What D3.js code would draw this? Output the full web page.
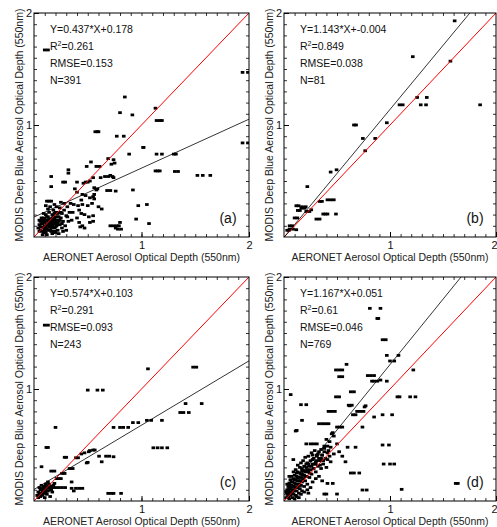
<!DOCTYPE html>
<html>
<head>
<meta charset="utf-8">
<script src="https://cdn.jsdelivr.net/npm/d3@7"></script>
<style>
  body { margin: 0; background: #fff; }
  text { font-family: Arial, "Liberation Sans", sans-serif; }
</style>
</head>
<body>
<svg id="chart" width="497" height="527"></svg>
<script>
// DATA

const panelNames = ["(a)", "(b)", "(c)", "(d)"];
const slopes = [0.437, 1.143, 0.574, 1.167];
const intercepts = [0.178, -0.004, 0.103, 0.051];
const fitLabels = ["Y=0.437*X+0.178", "Y=1.143*X+-0.004", "Y=0.574*X+0.103", "Y=1.167*X+0.051"];
const r2Labels = ["0.261", "0.849", "0.291", "0.61"];
const rmseLabels = ["0.153", "0.038", "0.093", "0.046"];
const nLabels = ["391", "81", "243", "769"];
const tickLabels = [1, 2];
const xTitle = "AERONET Aerosol Optical Depth (550nm)";
const yTitle = "MODIS Deep Blue Aerosol Optical Depth (550nm)";

// [AERONET, MODIS] pairs
const pointsA = [
  [0.10,1.67],[0.13,1.67],[1.94,1.47],[1.99,1.47],[1.94,0.84],[1.99,0.84],
  [0.845,1.25],[0.80,1.11],[0.915,1.09],[1.13,1.15],[1.14,1.04],[1.17,1.04],[1.19,1.04],
  [0.57,0.94],[0.59,0.94],[0.60,0.94],[0.77,0.90],[0.835,0.90],[1.015,0.80],[1.02,0.80],
  [0.885,0.74],[1.14,0.74],[1.19,0.74],[1.30,0.74],[1.32,0.74],
  [0.69,0.70],[0.74,0.69],[0.53,0.67],[0.75,0.66],[0.72,0.65],
  [0.49,0.63],[0.58,0.63],[0.61,0.63],[0.32,0.60],[0.32,0.57],
  [1.13,0.59],[1.15,0.59],[1.17,0.59],[1.31,0.585],[1.34,0.585],
  [1.52,0.55],[1.57,0.55],[1.64,0.55],
  [0.16,0.54],[0.55,0.53],[0.62,0.53],[0.66,0.54],[0.69,0.54],[0.71,0.55],[0.73,0.54],[0.74,0.53],
  [0.27,0.49],[0.29,0.49],[0.40,0.49],[0.46,0.48],[0.48,0.49],[0.50,0.49],[0.52,0.50],
  [0.16,0.45],[0.56,0.44],[0.58,0.42],[0.59,0.43],[0.56,0.38],[0.92,0.42],
  [0.68,0.415],[0.71,0.415],[0.76,0.41],
  [0.38,0.43],[0.40,0.40],[0.45,0.38],[0.48,0.37],[0.52,0.35],[0.55,0.36],[0.56,0.34],[0.44,0.33],
  [0.37,0.29],[0.41,0.28],[0.45,0.29],[0.50,0.28],[0.54,0.30],[0.60,0.27],[0.63,0.25],
  [0.97,0.28],[1.05,0.29],[0.95,0.16],[1.07,0.12],
  [0.42,0.24],[0.44,0.21],[0.47,0.20],[0.51,0.18],[0.55,0.19],[0.40,0.17],[0.36,0.22],
  [0.31,0.18],[0.35,0.15],[0.42,0.13],[0.52,0.13],[0.55,0.14],[0.43,0.09],[0.47,0.08],[0.45,0.10],
  [0.71,0.10],[0.74,0.10],[0.77,0.10],[0.79,0.10],[0.80,0.13],[0.76,0.08],[0.78,0.07],[0.81,0.07],
  [0.12,0.32],[0.14,0.32],[0.16,0.32],
  [0.04,0.08],[0.05,0.11],[0.06,0.06],[0.06,0.14],[0.07,0.09],[0.08,0.12],[0.08,0.05],[0.09,0.17],
  [0.09,0.08],[0.10,0.13],[0.10,0.10],[0.11,0.04],[0.11,0.20],[0.12,0.15],[0.12,0.07],[0.13,0.11],
  [0.13,0.18],[0.14,0.09],[0.14,0.22],[0.15,0.13],[0.15,0.06],[0.16,0.16],[0.16,0.10],[0.17,0.20],
  [0.17,0.03],[0.18,0.12],[0.18,0.24],[0.19,0.08],[0.19,0.17],[0.20,0.14],[0.20,0.22],[0.21,0.10],
  [0.21,0.27],[0.22,0.18],[0.22,0.06],[0.23,0.14],[0.23,0.22],[0.24,0.11],[0.24,0.26],[0.25,0.17],
  [0.26,0.08],[0.26,0.21],[0.27,0.14],[0.28,0.24],[0.28,0.30],[0.29,0.10],[0.30,0.19],[0.31,0.27],
  [0.32,0.14],[0.33,0.22],[0.34,0.30],[0.09,0.21],[0.07,0.17],[0.13,0.25],[0.11,0.28],[0.15,0.27],
  [0.19,0.29],[0.25,0.31],[0.05,0.15],[0.12,0.02],[0.08,0.02],[0.16,0.05],[0.20,0.04],[0.23,0.03],
  [0.27,0.05],[0.30,0.06],[0.26,0.12],[0.17,0.14],[0.14,0.16],[0.10,0.06],[0.18,0.19],[0.21,0.15],
  [0.05,0.05],[0.07,0.12],[0.09,0.14],[0.10,0.16],[0.11,0.09],[0.12,0.11],[0.13,0.14],[0.14,0.12],
  [0.15,0.09],[0.15,0.16],[0.16,0.13],[0.17,0.11],[0.17,0.17],[0.18,0.09],[0.18,0.15],[0.19,0.12],
  [0.19,0.21],[0.20,0.09],[0.20,0.18],[0.21,0.13],[0.22,0.21],[0.22,0.12],[0.23,0.18],[0.24,0.15],
  [0.25,0.22],[0.13,0.06],[0.16,0.08],[0.19,0.05],[0.09,0.04],[0.06,0.09],[0.08,0.15],[0.12,0.18]
];

const pointsB = [
  [1.61,1.93],[1.215,1.61],[1.57,1.57],[1.256,1.246],[1.347,1.246],[1.09,1.18],[1.12,1.18],
  [1.29,1.18],[1.34,1.18],[1.85,1.18],[0.66,1.0],[0.68,1.0],[0.97,1.02],[0.744,0.88],[0.86,0.88],
  [0.766,0.77],[0.44,0.58],[0.496,0.60],[0.22,0.45],[0.336,0.318],[0.358,0.318],[0.41,0.332],
  [0.44,0.332],[0.47,0.332],[0.37,0.205],[0.39,0.205],[0.41,0.205],[0.49,0.205],[0.305,0.16],
  [0.336,0.16],[0.21,0.228],[0.24,0.228],[0.257,0.243],[0.116,0.279],[0.138,0.279],[0.163,0.258],
  [0.195,0.258],[0.13,0.237],[0.15,0.237],[0.10,0.17],[0.126,0.17],[0.053,0.10],[0.078,0.10],
  [0.053,0.07],[0.085,0.07],[0.116,0.065],[0.03,0.06],[0.047,0.06],[0.17,0.27],[0.19,0.26],[0.205,0.27]
];

const pointsC = [
  [0.10,1.57],[0.13,1.57],[1.06,1.18],[1.48,1.195],[1.51,1.195],[0.50,0.99],[0.59,0.99],[0.64,0.99],
  [1.41,0.87],[1.56,0.87],[1.36,0.79],[1.39,0.79],[1.44,0.79],[1.05,0.72],[1.09,0.72],[1.19,0.72],
  [0.92,0.70],[0.97,0.70],[0.74,0.657],[0.80,0.657],[0.83,0.657],[0.876,0.657],[0.20,0.657],
  [1.11,0.475],[1.15,0.475],[1.19,0.475],[1.24,0.475],[0.115,0.478],[0.13,0.478],
  [0.44,0.42],[0.47,0.43],[0.51,0.44],[0.55,0.455],[0.565,0.455],[0.52,0.45],
  [0.67,0.40],[0.70,0.40],[0.74,0.395],[0.605,0.40],[0.63,0.35],[0.49,0.34],[0.50,0.345],
  [0.39,0.386],[0.41,0.386],[0.07,0.306],[0.16,0.267],[0.19,0.267],[0.285,0.39],[0.30,0.39],
  [0.33,0.29],[0.36,0.29],[0.26,0.246],[0.285,0.246],[0.21,0.20],[0.23,0.20],[0.25,0.20],
  [0.35,0.17],[0.19,0.157],[0.17,0.12],[0.20,0.12],[0.23,0.12],[0.26,0.12],[0.29,0.12],
  [0.35,0.113],[0.39,0.113],[0.42,0.113],[0.45,0.113],[0.37,0.09],
  [0.69,0.068],[0.72,0.068],[0.74,0.068],[0.81,0.068],
  [0.03,0.05],[0.04,0.08],[0.05,0.06],[0.06,0.10],[0.06,0.04],[0.07,0.07],[0.08,0.11],[0.08,0.05],
  [0.09,0.09],[0.10,0.12],[0.10,0.07],[0.11,0.10],[0.12,0.13],[0.12,0.06],[0.13,0.09],[0.14,0.12],
  [0.14,0.15],[0.15,0.10],[0.16,0.13],[0.17,0.08],[0.09,0.13],[0.05,0.12],[0.11,0.15],[0.07,0.14],
  [0.13,0.17],[0.04,0.03],[0.15,0.04],[0.18,0.14],[0.10,0.03],[0.08,0.08],[0.11,0.07],[0.13,0.12],
  [0.16,0.10],[0.07,0.11],[0.12,0.09]
];

const pointsD = [
  [0.81,1.72],[0.91,1.72],[0.88,1.63],[0.89,1.63],[0.93,1.44],[0.96,1.44],[0.97,1.30],[1.0,1.25],
  [1.04,1.25],[1.08,1.30],[0.59,1.22],[1.22,1.17],[0.49,1.17],[0.52,1.17],[0.55,1.17],[0.52,1.11],
  [0.55,1.11],[0.79,1.12],[0.82,1.12],[0.85,1.12],[0.83,1.07],[0.85,1.07],[0.88,1.07],[0.91,1.08],
  [0.97,1.07],[0.63,0.975],[0.66,0.975],[0.49,0.93],[0.52,0.93],[1.07,0.93],[1.09,0.93],[1.19,0.93],
  [1.24,0.93],[0.063,0.95],[0.16,0.86],[0.21,0.86],[0.61,0.855],[0.64,0.855],[0.77,0.85],[0.69,0.80],
  [0.72,0.80],[0.75,0.80],[0.42,0.80],[0.45,0.80],[0.48,0.80],[0.17,0.72],[0.65,0.77],[0.675,0.77],
  [0.93,0.77],[1.02,0.77],[0.33,0.69],[0.36,0.69],[0.39,0.69],[0.42,0.69],[0.50,0.66],[0.525,0.66],
  [0.55,0.66],[0.74,0.66],[0.12,0.63],[0.46,0.61],[0.21,0.51],[0.25,0.51],[0.28,0.51],[0.31,0.51],
  [0.38,0.49],[0.41,0.49],[0.44,0.48],[0.50,0.51],[0.60,0.48],[0.675,0.48],[0.93,0.50],[0.99,0.50],
  [0.27,0.41],[0.31,0.41],[0.36,0.41],[0.58,0.35],[0.94,0.33],[1.0,0.33],[1.04,0.33],[0.63,0.25],
  [0.66,0.25],[0.71,0.25],[0.41,0.157],[0.46,0.157],[0.38,0.062],[0.40,0.062],[0.50,0.062],
  [0.74,0.098],[0.78,0.098],[1.11,0.104],[1.62,0.157],[1.64,0.157],[0.088,0.37],[0.11,0.625],
  [0.45,0.60],[0.47,0.58],[0.40,0.55],[0.43,0.53],[0.35,0.46],[0.38,0.44],[0.42,0.45],[0.33,0.38],
  [0.37,0.36],[0.41,0.37],[0.44,0.35],[0.30,0.33],[0.34,0.32],[0.47,0.42],[0.52,0.44],[0.55,0.40],
  [0.62,0.85],[0.85,0.75],[0.76,0.84],
  [0.02,0.03],[0.03,0.06],[0.03,0.10],[0.04,0.04],[0.04,0.13],[0.05,0.08],[0.05,0.16],[0.06,0.05],
  [0.06,0.11],[0.06,0.19],[0.07,0.08],[0.07,0.14],[0.07,0.22],[0.08,0.03],[0.08,0.10],[0.08,0.17],
  [0.09,0.06],[0.09,0.13],[0.09,0.20],[0.09,0.26],[0.10,0.09],[0.10,0.16],[0.10,0.23],[0.11,0.05],
  [0.11,0.12],[0.11,0.19],[0.11,0.28],[0.12,0.09],[0.12,0.15],[0.12,0.22],[0.13,0.12],[0.13,0.18],
  [0.13,0.26],[0.13,0.32],[0.14,0.07],[0.14,0.15],[0.14,0.21],[0.15,0.11],[0.15,0.18],[0.15,0.25],
  [0.15,0.30],[0.16,0.14],[0.16,0.21],[0.16,0.34],[0.17,0.09],[0.17,0.17],[0.17,0.24],[0.17,0.29],
  [0.18,0.20],[0.18,0.27],[0.18,0.36],[0.19,0.13],[0.19,0.23],[0.19,0.31],[0.20,0.18],[0.20,0.26],
  [0.20,0.39],[0.21,0.22],[0.21,0.30],[0.22,0.15],[0.22,0.34],[0.23,0.26],[0.23,0.40],[0.24,0.21],
  [0.24,0.31],[0.25,0.36],[0.25,0.28],[0.26,0.43],[0.26,0.24],[0.27,0.33],[0.28,0.38],[0.28,0.29],
  [0.29,0.45],[0.30,0.35],[0.30,0.26],[0.31,0.40],[0.32,0.31],[0.33,0.44],[0.34,0.36],[0.35,0.29],
  [0.36,0.41],[0.37,0.33],[0.38,0.47],[0.39,0.38],[0.40,0.30],[0.41,0.43],[0.43,0.40],[0.12,0.04],
  [0.16,0.06],[0.19,0.08],[0.22,0.10],[0.25,0.12],[0.27,0.17],[0.30,0.20],[0.33,0.22],[0.36,0.18],
  [0.23,0.07],[0.05,0.02],[0.10,0.02],[0.14,0.03],[0.02,0.08],[0.03,0.15],[0.05,0.22],
  [0.04,0.07],[0.05,0.12],[0.06,0.08],[0.07,0.17],[0.08,0.13],[0.09,0.10],[0.10,0.19],[0.11,0.15],
  [0.12,0.12],[0.12,0.25],[0.13,0.21],[0.14,0.18],[0.15,0.14],[0.16,0.24],[0.16,0.18],[0.17,0.27],
  [0.18,0.23],[0.19,0.27],[0.20,0.22],[0.21,0.33],[0.22,0.28],[0.23,0.33],[0.24,0.25],[0.26,0.31],
  [0.27,0.37],[0.29,0.33],[0.31,0.36],[0.32,0.42],[0.35,0.38],[0.04,0.10],[0.06,0.14],[0.08,0.07]
];

const allPoints = [pointsA, pointsB, pointsC, pointsD];

// LAYOUT

const frames = [
  { left: 34, top: 13, right: 249, bottom: 237 },
  { left: 284, top: 13, right: 496, bottom: 237 },
  { left: 34, top: 277, right: 249, bottom: 501 },
  { left: 284, top: 277, right: 496, bottom: 501 }
];
const svgWidth = 497;

const svg = d3.select("#chart");
const minorTicks = d3.range(1, 20).map(i => i / 10);

frames.forEach((f, i) => drawPanel(f, i));

function drawPanel(f, i) {
  const g = svg.append("g");

  const x = d3.scaleLinear().domain([0, 2]).range([f.left, f.right]);
  const y = d3.scaleLinear().domain([0, 2]).range([f.bottom, f.top]);

  const clipId = "clip" + i;
  g.append("clipPath").attr("id", clipId)
    .append("rect")
    .attr("x", f.left).attr("y", f.top)
    .attr("width", f.right - f.left).attr("height", f.bottom - f.top);

  // minor ticks, all four sides, pointing in
  const minor = [
    [d3.axisBottom(x), `translate(0,${f.bottom})`],
    [d3.axisTop(x), `translate(0,${f.top})`],
    [d3.axisLeft(y), `translate(${f.left},0)`],
    [d3.axisRight(y), `translate(${f.right},0)`]
  ];
  minor.forEach(([ax, tr]) => {
    g.append("g").attr("transform", tr)
      .call(ax.tickValues(minorTicks).tickSize(-3).tickFormat(""))
      .call(s => s.select(".domain").remove())
      .selectAll("line").attr("stroke", "#000").attr("stroke-width", 0.8);
  });

  // labelled ticks
  const xAxisG = g.append("g").attr("transform", `translate(0,${f.bottom})`)
    .call(d3.axisBottom(x).tickValues(tickLabels).tickFormat(d3.format("d")).tickSize(-5).tickPadding(4))
    .call(s => s.select(".domain").remove())
    .call(s => s.selectAll("text").attr("font-size", 11).attr("font-family", "Arial, 'Liberation Sans', sans-serif").attr("fill", "#111"));
  xAxisG.selectAll("line").attr("stroke", "#000");
  // keep the last label inside the window
  xAxisG.selectAll("text").filter(d => x(d) + 3 > svgWidth).attr("text-anchor", "end").attr("dx", 1);

  g.append("g").attr("transform", `translate(${f.left},0)`)
    .call(d3.axisLeft(y).tickValues(tickLabels).tickFormat(d3.format("d")).tickSize(-5).tickPadding(2))
    .call(s => s.select(".domain").remove())
    .call(s => s.selectAll("text").attr("font-size", 11).attr("font-family", "Arial, 'Liberation Sans', sans-serif").attr("fill", "#111"))
    .selectAll("line").attr("stroke", "#000");

  // points
  g.append("g").attr("clip-path", `url(#${clipId})`)
    .selectAll("rect")
    .data(allPoints[i])
    .enter().append("rect")
    .attr("x", d => x(d[0]) - 1.8)
    .attr("y", d => y(d[1]) - 1.4)
    .attr("width", 3.6)
    .attr("height", 2.8)
    .attr("fill", "#000");

  // 1:1 line and fitted line
  const lines = g.append("g").attr("clip-path", `url(#${clipId})`);
  lines.append("line")
    .attr("x1", x(0)).attr("y1", y(0))
    .attr("x2", x(2)).attr("y2", y(2))
    .attr("stroke", "#ff0000").attr("stroke-width", 1);

  const a = slopes[i], b = intercepts[i];
  lines.append("line")
    .attr("x1", x(0)).attr("y1", y(b))
    .attr("x2", x(2)).attr("y2", y(a * 2 + b))
    .attr("stroke", "#000").attr("stroke-width", 0.8);

  // frame
  g.append("rect")
    .attr("x", f.left).attr("y", f.top)
    .attr("width", f.right - f.left).attr("height", f.bottom - f.top)
    .attr("fill", "none").attr("stroke", "#000").attr("stroke-width", 1);

  // stats text
  const tx = f.left + 16;
  const ty = f.top + 20;
  const stats = g.append("g").attr("font-size", 10.5).attr("fill", "#111");
  stats.append("text").attr("x", tx).attr("y", ty).text(fitLabels[i]);
  const r2 = stats.append("text").attr("x", tx).attr("y", ty + 17);
  r2.append("tspan").text("R");
  r2.append("tspan").attr("dy", -4).attr("font-size", 7).text("2");
  r2.append("tspan").attr("dy", 4).text("=" + r2Labels[i]);
  stats.append("text").attr("x", tx).attr("y", ty + 34).text("RMSE=" + rmseLabels[i]);
  stats.append("text").attr("x", tx).attr("y", ty + 51).text("N=" + nLabels[i]);

  // panel letter
  g.append("text")
    .attr("x", f.right - 21).attr("y", f.bottom - 14)
    .attr("text-anchor", "middle")
    .attr("font-family", "'Liberation Serif', 'Times New Roman', serif")
    .attr("font-size", 14)
    .attr("fill", "#111")
    .text(panelNames[i]);

  // axis titles
  g.append("text")
    .attr("x", (f.left + f.right) / 2).attr("y", f.bottom + 24)
    .attr("text-anchor", "middle")
    .attr("font-size", 10.5).attr("fill", "#222")
    .text(xTitle);

  g.append("text")
    .attr("transform", `translate(${f.left - 11},${(f.top + f.bottom) / 2}) rotate(-90)`)
    .attr("text-anchor", "middle")
    .attr("font-size", 10.5).attr("fill", "#222")
    .text(yTitle);
}
</script>
</body>
</html>
